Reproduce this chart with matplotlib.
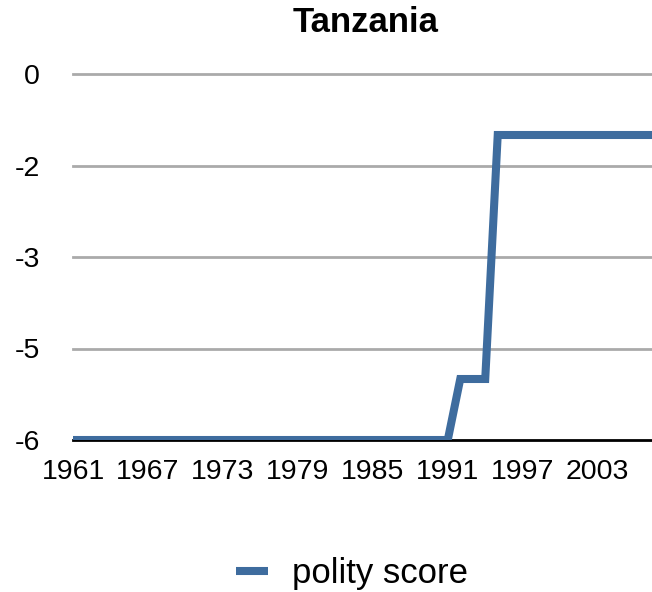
import matplotlib
matplotlib.use("Agg")
import matplotlib.pyplot as plt
import numpy as np

plt.rcParams['font.family'] = ['Liberation Sans', 'DejaVu Sans']

years = list(range(1961, 2009))
polity = [-6] * 31 + [-5] * 3 + [-1] * 14   # 1961-1991: -6, 1992-1994: -5, 1995-2008: -1
y_ticks = [0, -1.5, -3, -4.5, -6]
y_labels = ["0", "-2", "-3", "-5", "-6"]
x_ticks = [1961, 1967, 1973, 1979, 1985, 1991, 1997, 2003]
title = "Tanzania"
series_name = "polity score"

fig = plt.figure(figsize=(6.52, 5.92), dpi=100)
ax = fig.add_axes([73/652, 1 - 440/592, 1 - 73/652, (440 - 74)/592])

color = "#3e6c9e"
ax.plot(years, polity, color=color, lw=5.8, solid_joinstyle='miter',
        solid_capstyle='butt', label=series_name, zorder=3, clip_on=True)

ax.set_xlim(1961, 2007.35)
ax.set_ylim(-6, 0)
ax.set_yticks(y_ticks)
ax.set_yticklabels(y_labels)
ax.set_xticks(x_ticks)
ax.set_xticklabels([str(x) for x in x_ticks])
ax.tick_params(axis='both', length=0, labelsize=20.5)
ax.tick_params(axis='y', pad=24)
ax.tick_params(axis='x', pad=14)

for v in y_ticks[:-1]:
    ax.axhline(v, color="#aaaaaa", lw=2, zorder=1, clip_on=False)
for s in ['top', 'right', 'left']:
    ax.spines[s].set_visible(False)
ax.spines['bottom'].set_color('black')
ax.spines['bottom'].set_linewidth(2)

fig.text(366/652, 1 - 23/592, title, ha='center', va='center',
         fontsize=25, fontweight='bold')

leg = fig.legend(handles=ax.get_lines()[:1], labels=[series_name],
                 loc='center', bbox_to_anchor=(352/652, 1 - 574/592),
                 frameon=False, fontsize=25, handlelength=0.92,
                 handletextpad=0.7)

fig.savefig("out.png", dpi=100)
